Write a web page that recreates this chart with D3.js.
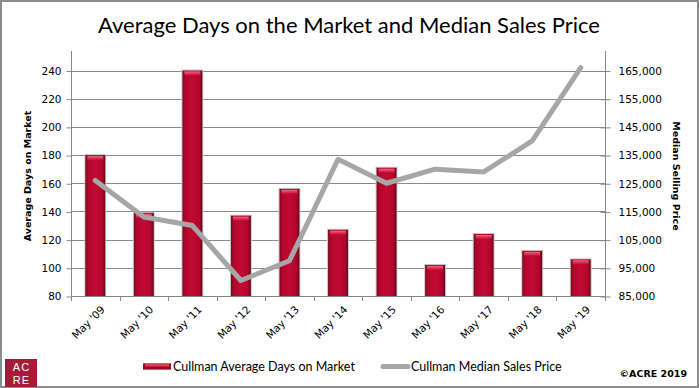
<!DOCTYPE html>
<html>
<head>
<meta charset="utf-8">
<script src="https://cdn.jsdelivr.net/npm/d3@7"></script>
<style>
  body { margin: 0; background: #fff; }
  svg { display: block; }
</style>
</head>
<body>
<svg id="chart" width="699" height="388"></svg>
<script>
// data
const years = ["May '09", "May '10", "May '11", "May '12", "May '13", "May '14", "May '15", "May '16", "May '17", "May '18", "May '19"];
const avgDays = [180, 139, 240, 137, 156, 127, 171, 102, 124, 112, 106];
const medianPrice = [126000, 113000, 110000, 90500, 97500, 133500, 125000, 130000, 129000, 140000, 166000];
const leftTicks = [80, 100, 120, 140, 160, 180, 200, 220, 240];
const rightTicks = [85000, 95000, 105000, 115000, 125000, 135000, 145000, 155000, 165000];

const plot = { left: 71, right: 605, top: 70.5, bottom: 296 };
const axisColor = "#868686";
const tickFont = "'DejaVu Sans', Tahoma, sans-serif";

const svg = d3.select("#chart");

// outer frame
svg.append("rect")
	.attr("x", 1).attr("y", 1)
	.attr("width", 697).attr("height", 386)
	.attr("fill", "#fff")
	.attr("stroke", "#8c8c8c")
	.attr("stroke-width", 2);

const x = d3.scaleBand()
	.domain(years)
	.range([plot.left, plot.right])
	.paddingInner(0.59)
	.paddingOuter(0.295);

const yLeft = d3.scaleLinear().domain([80, 240]).range([plot.bottom, plot.top]);
const yRight = d3.scaleLinear().domain([85000, 165000]).range([plot.bottom, plot.top]);

// bar gradients
const defs = svg.append("defs");
const barGrad = defs.append("linearGradient").attr("id", "barGrad")
	.attr("x1", "0").attr("x2", "1").attr("y1", "0").attr("y2", "0");
barGrad.append("stop").attr("offset", "0%").attr("stop-color", "#7a0a22");
barGrad.append("stop").attr("offset", "14%").attr("stop-color", "#b2062c");
barGrad.append("stop").attr("offset", "50%").attr("stop-color", "#c20a32");
barGrad.append("stop").attr("offset", "86%").attr("stop-color", "#b0062b");
barGrad.append("stop").attr("offset", "100%").attr("stop-color", "#5e0717");

const capGrad = defs.append("linearGradient").attr("id", "capGrad")
	.attr("x1", "0").attr("x2", "0").attr("y1", "0").attr("y2", "1");
capGrad.append("stop").attr("offset", "0%").attr("stop-color", "#f2647c");
capGrad.append("stop").attr("offset", "100%").attr("stop-color", "#c20a32");

// gridlines
svg.append("g")
	.selectAll("line")
	.data(leftTicks.slice(1))
	.join("line")
	.attr("x1", plot.left).attr("x2", plot.right)
	.attr("y1", d => Math.round(yLeft(d)) + 0.5)
	.attr("y2", d => Math.round(yLeft(d)) + 0.5)
	.attr("stroke", "#8a8a8a")
	.attr("stroke-width", 1);

// left axis
const leftAxis = svg.append("g")
	.attr("transform", `translate(${plot.left + 0.5}, 0.5)`)
	.call(d3.axisLeft(yLeft).tickValues(leftTicks).tickSize(5).tickSizeOuter(0).tickPadding(5));
leftAxis.select(".domain").attr("stroke", axisColor).attr("d", `M0,${plot.top - 20}V${plot.bottom}`);
leftAxis.selectAll(".tick line").attr("stroke", axisColor);
leftAxis.selectAll(".tick text")
	.attr("font-family", tickFont).attr("font-size", 10.5).attr("fill", "#000");

// right axis (ticks cross the line)
const rightAxis = svg.append("g")
	.attr("transform", `translate(${plot.right + 0.5}, 0.5)`)
	.call(d3.axisRight(yRight).tickValues(rightTicks).tickSize(5).tickSizeOuter(0).tickPadding(8)
		.tickFormat(d3.format(",")));
rightAxis.select(".domain").attr("stroke", axisColor).attr("d", `M0,${plot.top - 20}V${plot.bottom}`);
rightAxis.selectAll(".tick line").attr("stroke", axisColor).attr("x1", -5);
rightAxis.selectAll(".tick text")
	.attr("font-family", tickFont).attr("font-size", 10.5).attr("fill", "#000");

// bottom axis
const bottom = svg.append("g");
bottom.append("line")
	.attr("x1", plot.left).attr("x2", plot.right)
	.attr("y1", plot.bottom + 0.5).attr("y2", plot.bottom + 0.5)
	.attr("stroke", axisColor);
bottom.selectAll("line.tk")
	.data(d3.range(years.length + 1))
	.join("line")
	.attr("class", "tk")
	.attr("x1", i => Math.round(plot.left + i * x.step()) + 0.5)
	.attr("x2", i => Math.round(plot.left + i * x.step()) + 0.5)
	.attr("y1", plot.bottom).attr("y2", plot.bottom + 5)
	.attr("stroke", axisColor);
bottom.selectAll("text")
	.data(years)
	.join("text")
	.attr("transform", d => `translate(${x(d) + x.bandwidth() / 2 + 5}, ${plot.bottom + 9}) rotate(-45)`)
	.attr("text-anchor", "end")
	.attr("dy", "0.7em")
	.attr("font-family", tickFont)
	.attr("font-size", 10.5)
	.text(d => d);

// bars
const bars = svg.append("g");
years.forEach((yr, i) => {
	const bx = x(yr), bw = x.bandwidth(), top = yLeft(avgDays[i]);
	bars.append("rect")
		.attr("x", bx - 1).attr("y", top - 1)
		.attr("width", bw + 2).attr("height", plot.bottom - top + 1)
		.attr("fill", "#c8c8c8");
	bars.append("rect")
		.attr("x", bx).attr("y", top)
		.attr("width", bw).attr("height", plot.bottom - top)
		.attr("fill", "url(#barGrad)");
	bars.append("rect")
		.attr("x", bx + 2).attr("y", top + 1)
		.attr("width", bw - 4).attr("height", 4)
		.attr("fill", "url(#capGrad)");
});

// price line
const line = d3.line()
	.x((d, i) => x(years[i]) + x.bandwidth() / 2)
	.y(d => yRight(d));
svg.append("path")
	.datum(medianPrice)
	.attr("d", line)
	.attr("fill", "none")
	.attr("stroke", "#a6a6a6")
	.attr("stroke-width", 5)
	.attr("stroke-linejoin", "round")
	.attr("stroke-linecap", "round");

// title
svg.append("text")
	.attr("x", 349).attr("y", 33)
	.attr("text-anchor", "middle")
	.attr("font-family", "Lato, 'Open Sans', sans-serif")
	.attr("font-size", 22)
	.attr("fill", "#000")
	.text("Average Days on the Market and Median Sales Price");

// axis titles
svg.append("text")
	.attr("transform", "translate(31, 176) rotate(-90)")
	.attr("text-anchor", "middle")
	.attr("font-family", tickFont)
	.attr("font-weight", "bold")
	.attr("font-size", 9.5)
	.text("Average Days on Market");
svg.append("text")
	.attr("transform", "translate(673, 176) rotate(90)")
	.attr("text-anchor", "middle")
	.attr("font-family", tickFont)
	.attr("font-weight", "bold")
	.attr("font-size", 9.5)
	.text("Median Selling Price");

// legend
const legend = svg.append("g").attr("font-family", "Lato, sans-serif").attr("font-size", 12.5);
legend.append("rect").attr("x", 143).attr("y", 363).attr("width", 28).attr("height", 7).attr("fill", "#c8c8c8");
legend.append("rect").attr("x", 143).attr("y", 363.5).attr("width", 28).attr("height", 6).attr("fill", "#9e0627");
legend.append("rect").attr("x", 145).attr("y", 364).attr("width", 24).attr("height", 2.5).attr("fill", "#e23a58");
legend.append("text").attr("x", 173).attr("y", 371).text("Cullman Average Days on Market");
legend.append("line")
	.attr("x1", 383).attr("x2", 408).attr("y1", 366.5).attr("y2", 366.5)
	.attr("stroke", "#a6a6a6").attr("stroke-width", 5).attr("stroke-linecap", "round");
legend.append("text").attr("x", 411).attr("y", 371).text("Cullman Median Sales Price");

// logo
svg.append("rect").attr("x", 5).attr("y", 359).attr("width", 32).attr("height", 28).attr("fill", "#a51c37");
const logo = svg.append("g")
	.attr("font-family", "'Liberation Sans', Arial, sans-serif")
	.attr("font-size", 11)
	.attr("fill", "#fff")
	.attr("text-anchor", "middle")
	.attr("letter-spacing", 1);
logo.append("text").attr("x", 21.5).attr("y", 371).text("AC");
logo.append("text").attr("x", 21.5).attr("y", 384).text("RE");

svg.append("text")
	.attr("x", 687).attr("y", 377)
	.attr("text-anchor", "end")
	.attr("font-family", "'DejaVu Sans', Tahoma, sans-serif")
	.attr("font-weight", "bold")
	.attr("font-size", 9.5)
	.text("©ACRE 2019");
</script>
</body>
</html>
